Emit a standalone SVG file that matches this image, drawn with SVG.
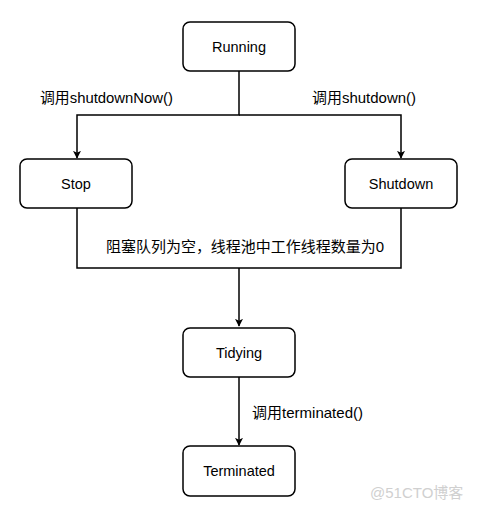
<svg xmlns="http://www.w3.org/2000/svg" width="480" height="512" viewBox="0 0 480 512">
<style>
.node rect{fill:#fff;stroke:#000;stroke-width:1.5}
.node text{font-family:"Liberation Sans",Arial,"Noto Sans CJK SC",sans-serif;font-size:14.5px;fill:#000;text-anchor:middle;dominant-baseline:central}
.edge{fill:none;stroke:#000;stroke-width:1.5}
.lbl{font-family:"Liberation Sans",Arial,"Noto Sans CJK SC",sans-serif;font-size:14.5px;fill:#000;dominant-baseline:central}
.wm{font-family:"Liberation Sans",Arial,"Noto Sans CJK SC",sans-serif;font-size:15px;fill:#d0d0d0;dominant-baseline:central}
</style>
<defs>
<marker id="arr" viewBox="0 0 10 10" refX="9" refY="5" markerWidth="8" markerHeight="8" markerUnits="userSpaceOnUse" orient="auto">
<path d="M0,0 L10,5 L0,10 L2.5,5 Z" fill="#000"/>
</marker>
</defs>
<rect width="480" height="512" fill="#fff"/>
<g id="connectors">
<path class="edge" d="M239,71 V115 H77 V158" marker-end="url(#arr)"/>
<path class="edge" d="M239,115 H401 V158" marker-end="url(#arr)"/>
<path class="edge" d="M77,208 V268 H401 V208"/>
<path class="edge" d="M239,268 V326" marker-end="url(#arr)"/>
<path class="edge" d="M239,377 V445" marker-end="url(#arr)"/>
<text class="lbl" x="40" y="98" textLength="133" lengthAdjust="spacingAndGlyphs">调用shutdownNow()</text>
<text class="lbl" x="312" y="98" textLength="104" lengthAdjust="spacingAndGlyphs">调用shutdown()</text>
<text class="lbl" x="106" y="247" font-size="14" textLength="278" lengthAdjust="spacingAndGlyphs">阻塞队列为空，线程池中工作线程数量为0</text>
<text class="lbl" x="252" y="413" textLength="111" lengthAdjust="spacingAndGlyphs">调用terminated()</text>
</g>
<g id="running" class="node"><rect x="183" y="22" width="112" height="49" rx="7"/><text x="239" y="47">Running</text></g>
<g id="stop" class="node"><rect x="20" y="159" width="112" height="49" rx="7"/><text x="76" y="184">Stop</text></g>
<g id="shutdown" class="node"><rect x="345" y="159" width="112" height="49" rx="7"/><text x="401" y="184">Shutdown</text></g>
<g id="tidying" class="node"><rect x="183" y="328" width="112" height="49" rx="7"/><text x="239" y="353">Tidying</text></g>
<g id="terminated" class="node"><rect x="183" y="446" width="112" height="50" rx="7"/><text x="239" y="471">Terminated</text></g>
<text class="wm" x="370" y="492">@51CTO博客</text>
</svg>
